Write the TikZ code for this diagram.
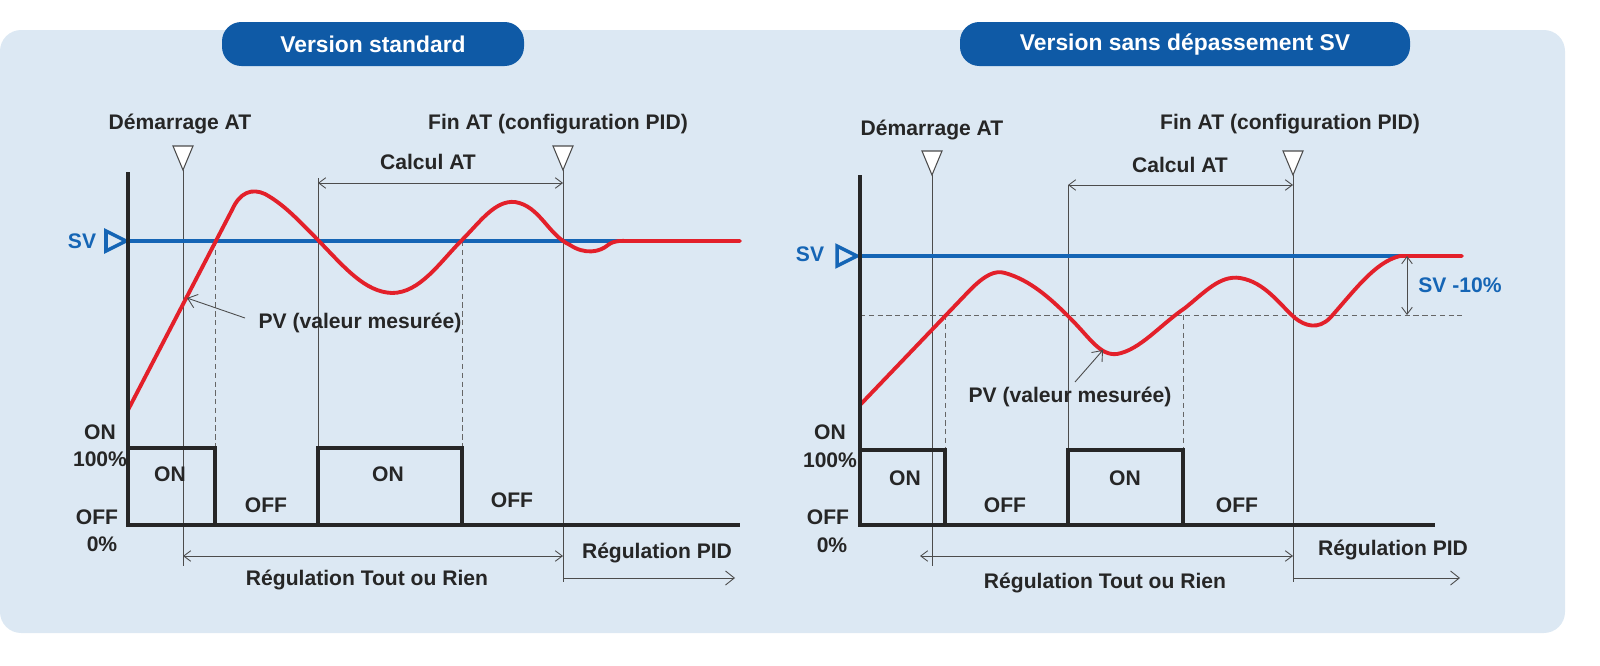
\documentclass[tikz,border=0pt]{standalone}
\usepackage{fontspec}
\setmainfont{Liberation Sans}
\usetikzlibrary{arrows.meta}
\definecolor{bgc}{HTML}{DCE8F3}
\definecolor{pill}{HTML}{0F5AA6}
\definecolor{svb}{HTML}{1565B5}
\definecolor{pvr}{HTML}{E3202A}
\newlength{\unitpx}\setlength{\unitpx}{0.02cm}
\tikzset{
 lbl/.style={font=\fontsize{12}{14}\selectfont\bfseries, text=black!85, inner sep=1pt},
 svl/.style={svb, line width=2.2pt},
 pvl/.style={pvr, line width=2.2pt, line cap=round, line join=round},
 thin/.style={black!70, line width=0.5pt},
 dsh/.style={black!60, line width=0.5pt, dash pattern=on 3pt off 2pt},
 axis/.style={black!85, line width=2pt},
 sq/.style={black!85, line width=2pt},
 meas/.style={black!70, line width=0.5pt, {Straight Barb[length=4pt,width=6pt]}-{Straight Barb[length=4pt,width=6pt]}},
 one/.style={black!70, line width=0.5pt, -{Straight Barb[length=5pt,width=8pt]}},
 tri/.style={draw=black!70, fill=white, line width=0.6pt},
 pilln/.style={fill=pill, text=white, rounded corners=11pt, font=\fontsize{13}{15}\selectfont\bfseries, minimum height=44\unitpx},
}
\begin{document}
\begin{tikzpicture}[x=0.02cm,y=-0.02cm]
\fill[bgc, rounded corners=12pt] (0,30) rectangle (1565,633);
\node[pilln, minimum width=302\unitpx] (t1) at (373,44) {Version standard};
\node[pilln, minimum width=450\unitpx] (t2) at (1185,44) {Version sans dépassement SV};

% ===== Left panel =====
\draw[thin] (183,170) -- (183,566);
\draw[thin] (563,170) -- (563,582);
\draw[thin] (318,178) -- (318,525);
\draw[dsh] (215,241) -- (215,525);
\draw[dsh] (462,241) -- (462,525);
\draw[tri] (173,146) -- (193,146) -- (183,170) -- cycle;
\draw[tri] (553,146) -- (573,146) -- (563,170) -- cycle;
\node[lbl] (dem1) at (180,124) {Démarrage AT};
\node[lbl] (fin1) at (558,124) {Fin AT (configuration PID)};
\coordinate (ca1) at (318,183); \coordinate (cb1) at (563,183);
\draw[meas] (ca1) -- (cb1);
\node[lbl] (cal1) at (428,162) {Calcul AT};
\draw[svl] (128,241) -- (740,241);
\draw[svb, line width=2pt, fill=bgc] (106,231) -- (126,241) -- (106,251) -- cycle;
\node[lbl, text=svb] (sv1) at (82,241) {SV};
\draw[pvl] (128,410) -- (232,210) .. controls (240,192) and (252,188) .. (265,194)
  .. controls (285,205) and (300,222) .. (318,240)
  .. controls (345,268) and (365,292) .. (392,293)
  .. controls (420,293) and (440,262) .. (462,240)
  .. controls (480,222) and (495,200) .. (515,202)
  .. controls (540,206) and (548,235) .. (570,245)
  .. controls (585,255) and (600,252) .. (608,245)
  .. controls (615,240) and (620,241) .. (630,241) -- (740,241);
\draw[axis] (128,172) -- (128,525) -- (740,525);
\draw[sq, line join=miter] (128,448) -- (215,448) -- (215,525);
\draw[sq, line join=miter] (318,525) -- (318,448) -- (462,448) -- (462,525);
\node[lbl] (on1a) at (100,432) {ON};
\node[lbl] (pc1a) at (100,459) {100\%};
\node[lbl] (of1a) at (97,517) {OFF};
\node[lbl] (pc1b) at (102,544) {0\%};
\node[lbl] (on1) at (170,474) {ON};
\node[lbl] (of1) at (266,505) {OFF};
\node[lbl] (on2) at (388,474) {ON};
\node[lbl] (of2) at (512,500) {OFF};
\node[lbl] (pv1) at (360,323) {PV (valeur mesurée)};
\coordinate (pvp1) at (187,298);
\draw[one] (245,318) -- (pvp1);
\coordinate (r1a) at (183,556); \coordinate (r1b) at (563,556);
\draw[meas] (r1a) -- (r1b);
\node[lbl] (rt1) at (367,580) {Régulation Tout ou Rien};
\node[lbl] (rp1) at (657,553) {Régulation PID};
\coordinate (p1a) at (563,578); \coordinate (p1b) at (735,578);
\draw[one] (p1a) -- (p1b);

% ===== Right panel =====
\draw[thin] (932,175) -- (932,566);
\draw[thin] (1293,175) -- (1293,582);
\draw[thin] (1068,185) -- (1068,525);
\draw[dsh] (860,315) -- (1462,315);
\draw[dsh] (945,315) -- (945,525);
\draw[dsh] (1183,315) -- (1183,525);
\draw[tri] (922,151) -- (942,151) -- (932,175) -- cycle;
\draw[tri] (1283,151) -- (1303,151) -- (1293,175) -- cycle;
\node[lbl] (dem2) at (932,130) {Démarrage AT};
\node[lbl] (fin2) at (1290,124) {Fin AT (configuration PID)};
\coordinate (ca2) at (1068,185); \coordinate (cb2) at (1293,185);
\draw[meas] (ca2) -- (cb2);
\node[lbl] (cal2) at (1180,165) {Calcul AT};
\draw[svl] (860,256) -- (1462,256);
\draw[svb, line width=2pt, fill=bgc] (837,246) -- (857,256) -- (837,266) -- cycle;
\node[lbl, text=svb] (sv2) at (810,254) {SV};
\draw[pvl] (860,405) -- (970,290) .. controls (985,275) and (995,270) .. (1005,273)
  .. controls (1030,280) and (1050,298) .. (1070,318)
  .. controls (1090,338) and (1100,356) .. (1117,354)
  .. controls (1140,350) and (1160,325) .. (1185,308)
  .. controls (1205,292) and (1220,275) .. (1240,278)
  .. controls (1265,282) and (1280,305) .. (1295,318)
  .. controls (1305,326) and (1318,330) .. (1330,318)
  .. controls (1355,290) and (1375,262) .. (1400,256) -- (1462,256);
\draw[axis] (860,175) -- (860,525) -- (1435,525);
\draw[sq, line join=miter] (860,450) -- (945,450) -- (945,525);
\draw[sq, line join=miter] (1068,525) -- (1068,450) -- (1183,450) -- (1183,525);
\node[lbl] (on2a) at (830,432) {ON};
\node[lbl] (pc2a) at (830,460) {100\%};
\node[lbl] (of2a) at (828,517) {OFF};
\node[lbl] (pc2b) at (832,545) {0\%};
\node[lbl] (on3) at (905,478) {ON};
\node[lbl] (of3) at (1005,505) {OFF};
\node[lbl] (on4) at (1125,478) {ON};
\node[lbl] (of4) at (1237,505) {OFF};
\coordinate (s10a) at (1407,256); \coordinate (s10b) at (1407,315);
\draw[meas] (s10a) -- (s10b);
\node[lbl, text=svb] (s10) at (1460,285) {SV -10\%};
\node[lbl] (pv2) at (1070,397) {PV (valeur mesurée)};
\coordinate (pvp2) at (1103,350);
\draw[one] (1075,382) -- (pvp2);
\coordinate (r2a) at (920,556); \coordinate (r2b) at (1293,556);
\draw[meas] (r2a) -- (r2b);
\node[lbl] (rt2) at (1105,583) {Régulation Tout ou Rien};
\node[lbl] (rp2) at (1393,550) {Régulation PID};
\coordinate (p2a) at (1293,578); \coordinate (p2b) at (1460,578);
\draw[one] (p2a) -- (p2b);
\pgfresetboundingbox
\useasboundingbox (0,0) rectangle (1600,666);
\end{tikzpicture}
\end{document}
